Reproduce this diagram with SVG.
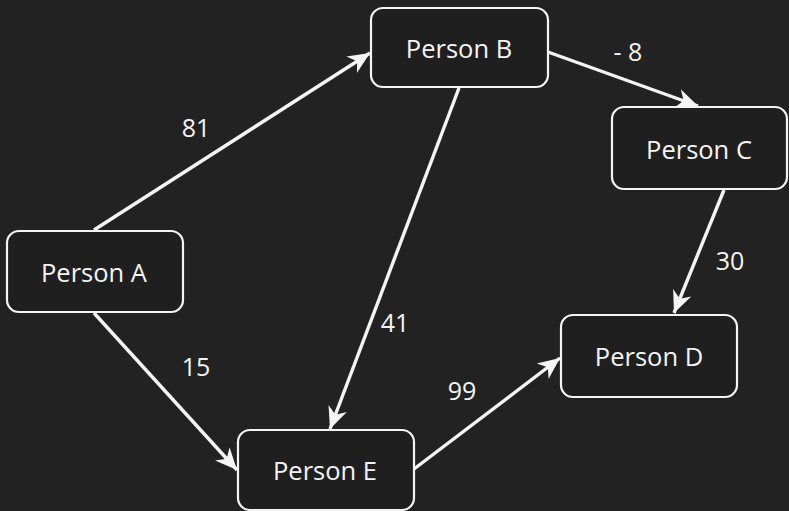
<svg xmlns="http://www.w3.org/2000/svg" width="789" height="511" viewBox="0 0 789 511">
<style>
.node rect{fill:#1f1f1f;stroke:#f4f4f4;stroke-width:2.2}
.node text{fill:#f4f4f4;font-family:"Open Sans","Noto Sans",sans-serif;font-size:25.5px;text-anchor:middle;dominant-baseline:central}
.edge{stroke:#f4f4f4;stroke-width:3.4;fill:none;marker-end:url(#arr)}
.lbl{fill:#f4f4f4;font-family:"Open Sans","Noto Sans",sans-serif;font-size:25px;text-anchor:middle;dominant-baseline:central}
</style>
<defs>
<marker id="arr" markerUnits="userSpaceOnUse" markerWidth="24" markerHeight="24" viewBox="0 0 22 18" refX="20" refY="9" orient="auto">
<path d="M0,0 L20,9 L0,18 L6,9 Z" fill="#f4f4f4"/>
</marker>
</defs>
<rect width="789" height="511" fill="#222222"/>
<g id="connectors">
<line class="edge" x1="94" y1="230" x2="370" y2="53"/>
<line class="edge" x1="94" y1="313" x2="237" y2="470"/>
<line class="edge" x1="548" y1="52" x2="698" y2="106"/>
<line class="edge" x1="459" y1="88" x2="330" y2="429"/>
<line class="edge" x1="724" y1="190" x2="674" y2="313"/>
<line class="edge" x1="414" y1="469" x2="560" y2="358"/>
<text class="lbl" x="196" y="127">81</text>
<text class="lbl" x="196" y="366">15</text>
<text class="lbl" x="628" y="51">- 8</text>
<text class="lbl" x="395" y="322">41</text>
<text class="lbl" x="730" y="260">30</text>
<text class="lbl" x="462" y="390">99</text>
</g>
<g id="personA" class="node"><rect x="7" y="231" width="176" height="81" rx="12"/><text x="94" y="272">Person A</text></g>
<g id="personB" class="node"><rect x="371" y="8" width="177" height="79" rx="12"/><text x="459" y="48">Person B</text></g>
<g id="personC" class="node"><rect x="612" y="107" width="175" height="82" rx="12"/><text x="699" y="149">Person C</text></g>
<g id="personD" class="node"><rect x="561" y="315" width="176" height="82" rx="12"/><text x="649" y="356">Person D</text></g>
<g id="personE" class="node"><rect x="238" y="430" width="176" height="80" rx="12"/><text x="325" y="470">Person E</text></g>
</svg>
